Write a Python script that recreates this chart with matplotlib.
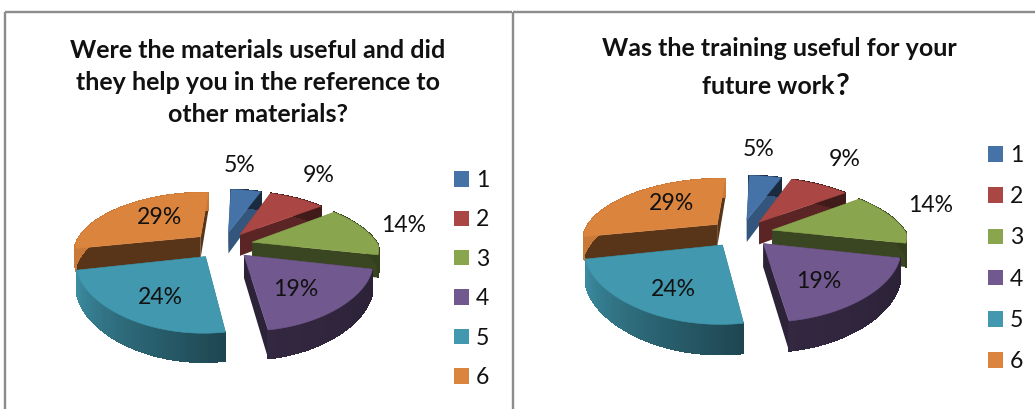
import numpy as np
import matplotlib
matplotlib.use('Agg')
import matplotlib.pyplot as plt
from matplotlib.collections import PolyCollection
from matplotlib.patches import Patch, Polygon

values = [5, 9, 14, 19, 24, 29]
categories = ['1', '2', '3', '4', '5', '6']
colors = ['#4572A7', '#AA4643', '#89A54E', '#71588F', '#4198AF', '#DB843D']
radial_shade = [0.75, 0.53, 0.42, 0.40, 0.40, 0.40]

title_left = ['Were the materials useful and did', 'they help you in the reference to', 'other materials?']
title_right = ['Was the training useful for your', 'future work']

plt.rcParams['font.family'] = ['Lato', 'DejaVu Sans']
PT = 72 / 100.  # px -> pt at dpi 100


def shade(color, f):
    return tuple(c * f for c in matplotlib.colors.to_rgb(color))


def draw_pie(ax, cx, cy, a, b, depth, explode=0.24, persp=0.2, rot=2):
    def project(x, z, drop=0.0):
        s = 1 / (1 - persp * z)
        # x shrinks faster towards the back than it grows towards the front
        sx = 1 / (1 - (0.25 if z < 0 else 0.1) * z)
        return cx + a * x * sx, cy + b * z * s + drop * s

    edges = np.cumsum([0] + values) / sum(values) * 360 + rot
    slices = []
    for i in range(len(values)):
        t0, t1 = edges[i], edges[i + 1]
        mid = np.radians((t0 + t1) / 2)
        ox, oz = explode * np.sin(mid), -explode * np.cos(mid)
        th = np.radians(np.linspace(t0, t1, 60))
        rx, rz = ox + np.sin(th), oz - np.cos(th)
        slices.append((-np.cos(mid), i, ox, oz, th, rx, rz))

    # painter's order, back slices first
    for _, i, ox, oz, th, rx, rz in sorted(slices, key=lambda r: r[0]):
        c = colors[i]
        # radial walls
        for k in (0, -1):
            p = [project(ox, oz), project(rx[k], rz[k]),
                 project(rx[k], rz[k], depth), project(ox, oz, depth)]
            ax.add_patch(Polygon(p, closed=True, fc=shade(c, radial_shade[i]), ec='none'))
        # outer wall, shaded by angle
        quads, fc = [], []
        for k in range(len(th) - 1):
            quads.append([project(rx[k], rz[k]), project(rx[k + 1], rz[k + 1]),
                          project(rx[k + 1], rz[k + 1], depth), project(rx[k], rz[k], depth)])
            fc.append(shade(c, np.interp(np.degrees(th[k]), [100, 169, 255], [0.38, 0.45, 0.92])))
        ax.add_collection(PolyCollection(quads, facecolors=fc, edgecolors=fc, linewidths=0.5,
                                         antialiaseds=False))
        # top face
        top = [project(ox, oz)] + [project(x, z) for x, z in zip(rx, rz)]
        ax.add_patch(Polygon(top, closed=True, fc=c, ec=c, lw=0.4))


def add_legend(ax, x, y, spacing):
    handles = [Patch(fc=c, ec='none', label=l) for c, l in zip(colors, categories)]
    fs = 23 * PT
    ax.legend(handles=handles, loc='upper left', bbox_to_anchor=(x, y), bbox_transform=ax.transData,
              frameon=False, fontsize=fs, borderpad=0, borderaxespad=0, handlelength=0.65,
              handleheight=0.65, handletextpad=0.3, labelspacing=spacing, labelcolor='#111111')


fig = plt.figure(figsize=(10.35, 4.09), dpi=100)
ax1 = fig.add_axes([0, 0, 512 / 1035, 1])
ax2 = fig.add_axes([512 / 1035, 0, 523 / 1035, 1])
ax1.set_xlim(0, 512)
ax2.set_xlim(512, 1035)
for ax in (ax1, ax2):
    ax.set_ylim(409, 0)
    ax.axis('off')

# frames
frame = dict(color='#8c8c8c', lw=2.4 * PT, solid_capstyle='butt', clip_on=False)
ax1.plot([5, 5], [12, 409], **frame)
ax1.plot([5, 512], [12, 12], **frame)
ax2.plot([513, 513], [12, 409], **frame)
ax2.plot([513, 1035], [12, 12], **frame)

draw_pie(ax1, 223, 245, 126, 56, 22)
draw_pie(ax2, 741, 233, 134, 58, 23)

label_xy_left = [(240, 166), (319, 176), (404, 226), (296, 290), (160, 297), (160, 218)]
label_xy_right = [(759, 150), (845, 160), (931, 205), (819, 282), (673, 289), (671, 204)]
for ax, pos in ((ax1, label_xy_left), (ax2, label_xy_right)):
    for v, (x, y) in zip(values, pos):
        ax.text(x, y, f'{v}%', ha='center', va='center', fontsize=23 * PT, color='#111111')

for line, y in zip(title_left, (50, 82, 114)):
    ax1.text(258, y, line, ha='center', va='center', fontsize=25 * PT, fontweight='bold', color='#111111')
ax2.text(779, 48, title_right[0], ha='center', va='center', fontsize=25 * PT, fontweight='bold', color='#111111')
ax2.text(835, 87, title_right[1], ha='right', va='center', fontsize=25 * PT, fontweight='bold', color='#111111')
ax2.text(836, 86, '?', ha='left', va='center', fontsize=30 * PT, fontweight='bold', color='#111111')

add_legend(ax1, 454, 170, 0.8)
add_legend(ax2, 988, 145, 0.88)

fig.savefig('out.png', dpi=100)
